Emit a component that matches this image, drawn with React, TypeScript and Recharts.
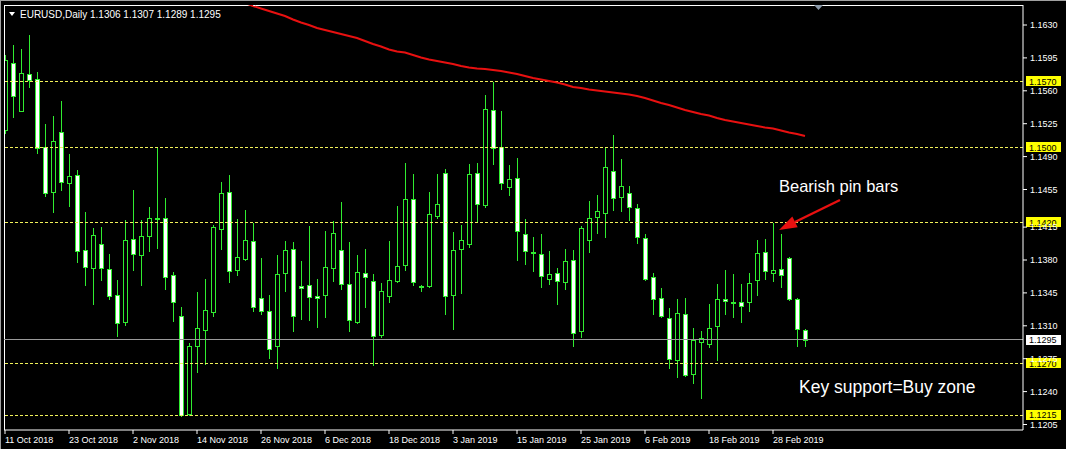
import { ComposedChart, Bar, Line, XAxis, YAxis, ReferenceLine } from 'recharts'

// EURUSD daily, 11 Oct 2018 .. early Mar 2019
const dateLabels = [
  '11 Oct 2018', '23 Oct 2018', '2 Nov 2018', '14 Nov 2018', '26 Nov 2018', '6 Dec 2018',
  '18 Dec 2018', '3 Jan 2019', '15 Jan 2019', '25 Jan 2019', '6 Feb 2019', '18 Feb 2019', '28 Feb 2019',
]

const opens = [
  1.1518, 1.1590, 1.1539, 1.1578, 1.1573, 1.1500, 1.1452, 1.1516, 1.1462, 1.1470,
  1.1391, 1.1372, 1.1397, 1.1370, 1.1343, 1.1314, 1.1402, 1.1385, 1.1406, 1.1424,
  1.1425, 1.1364, 1.1320, 1.1216, 1.1289, 1.1306, 1.1325, 1.1413, 1.1452, 1.1369,
  1.1381, 1.1400, 1.1340, 1.1326, 1.1288, 1.1366, 1.1392, 1.1352, 1.1353, 1.1342,
  1.1343, 1.1372, 1.1391, 1.1355, 1.1314, 1.1366, 1.1358, 1.1300, 1.1342, 1.1358,
  1.1375, 1.1445, 1.1352, 1.1352, 1.1427, 1.1473, 1.1343, 1.1392, 1.1397, 1.1473,
  1.1439, 1.1540, 1.1500, 1.1458, 1.1467, 1.1408, 1.1389, 1.1386, 1.1360, 1.1366,
  1.1357, 1.1380, 1.1304, 1.1401, 1.1426, 1.1430, 1.1475, 1.1447, 1.1451, 1.1435,
  1.1403, 1.1362, 1.1340, 1.1318, 1.1274, 1.1323, 1.1259, 1.1293, 1.1291, 1.1310,
  1.1339, 1.1335, 1.1335, 1.1335, 1.1359, 1.1388, 1.1366, 1.1370, 1.1382, 1.1339,
  1.1306,
]

const highs = [
  1.1598, 1.1609, 1.1604, 1.1619, 1.1580, 1.1525, 1.1533, 1.1549, 1.1493, 1.1476,
  1.1431, 1.1414, 1.1415, 1.1386, 1.1359, 1.1423, 1.1454, 1.1423, 1.1436, 1.1499,
  1.1446, 1.1367, 1.1330, 1.1292, 1.1346, 1.1360, 1.1417, 1.1463, 1.1470, 1.1424,
  1.1433, 1.1419, 1.1382, 1.1343, 1.1385, 1.1400, 1.1399, 1.1379, 1.1416, 1.1360,
  1.1411, 1.1421, 1.1442, 1.1399, 1.1385, 1.1392, 1.1365, 1.1356, 1.1400, 1.1437,
  1.1483, 1.1472, 1.1353, 1.1452, 1.1471, 1.1477, 1.1410, 1.1417, 1.1482, 1.1483,
  1.1556, 1.1569, 1.1538, 1.1481, 1.1488, 1.1424, 1.1404, 1.1408, 1.1390, 1.1372,
  1.1392, 1.1391, 1.1416, 1.1443, 1.1449, 1.1500, 1.1513, 1.1487, 1.1459, 1.1440,
  1.1408, 1.1366, 1.1350, 1.1329, 1.1338, 1.1340, 1.1308, 1.1304, 1.1333, 1.1355,
  1.1369, 1.1365, 1.1354, 1.1366, 1.1401, 1.1402, 1.1419, 1.1408, 1.1383, 1.1340,
  1.1307,
]

const lows = [
  1.1515, 1.1532, 1.1538, 1.1564, 1.1494, 1.1448, 1.1431, 1.1454, 1.1437, 1.1378,
  1.1353, 1.1333, 1.1359, 1.1338, 1.1299, 1.1311, 1.1369, 1.1353, 1.1390, 1.1393,
  1.1349, 1.1315, 1.1214, 1.1215, 1.1261, 1.1269, 1.1320, 1.1392, 1.1357, 1.1364,
  1.1380, 1.1326, 1.1323, 1.1276, 1.1265, 1.1347, 1.1304, 1.1317, 1.1316, 1.1309,
  1.1319, 1.1358, 1.1349, 1.1304, 1.1313, 1.1330, 1.1268, 1.1298, 1.1335, 1.1357,
  1.1369, 1.1353, 1.1347, 1.1351, 1.1425, 1.1323, 1.1307, 1.1345, 1.1394, 1.1421,
  1.1436, 1.1482, 1.1456, 1.1449, 1.1380, 1.1376, 1.1368, 1.1351, 1.1354, 1.1333,
  1.1349, 1.1288, 1.1298, 1.1388, 1.1409, 1.1404, 1.1433, 1.1432, 1.1423, 1.1398,
  1.1359, 1.1323, 1.1319, 1.1265, 1.1256, 1.1257, 1.1249, 1.1233, 1.1287, 1.1274,
  1.1323, 1.1319, 1.1314, 1.1326, 1.1343, 1.1360, 1.1358, 1.1351, 1.1337, 1.1288,
  1.1289,
]

const closes = [
  1.1593, 1.1555, 1.1579, 1.1571, 1.1499, 1.1451, 1.1507, 1.1463, 1.1469, 1.1390,
  1.1373, 1.1407, 1.1371, 1.1342, 1.1313, 1.1401, 1.1386, 1.1406, 1.1425, 1.1425,
  1.1362, 1.1335, 1.1215, 1.1289, 1.1308, 1.1327, 1.1415, 1.1451, 1.1368, 1.1383,
  1.1401, 1.1330, 1.1326, 1.1285, 1.1365, 1.1391, 1.1320, 1.1350, 1.1341, 1.1340,
  1.1373, 1.1409, 1.1354, 1.1316, 1.1367, 1.1362, 1.1299, 1.1347, 1.1359, 1.1374,
  1.1445, 1.1357, 1.1351, 1.1429, 1.1440, 1.1342, 1.1391, 1.1401, 1.1472, 1.1440,
  1.1541, 1.1499, 1.1462, 1.1466, 1.1411, 1.1390, 1.1387, 1.1363, 1.1365, 1.1358,
  1.1379, 1.1302, 1.1414, 1.1425, 1.1432, 1.1479, 1.1446, 1.1459, 1.1436, 1.1404,
  1.1360, 1.1338, 1.1320, 1.1275, 1.1324, 1.1258, 1.1295, 1.1297, 1.1308, 1.1338,
  1.1336, 1.1334, 1.1331, 1.1356, 1.1387, 1.1368, 1.1369, 1.1364, 1.1338, 1.1307,
  1.1295,
]

// red moving average, visible from bar 30 on
const maStart = 30
const maValues = [
  1.16534, 1.16502, 1.16476, 1.16449, 1.16422, 1.16396, 1.16359, 1.16327, 1.16300, 1.16268,
  1.16247, 1.16226, 1.16204, 1.16183, 1.16162, 1.16130, 1.16098, 1.16071, 1.16039, 1.16018,
  1.16007, 1.15981, 1.15954, 1.15933, 1.15917, 1.15901, 1.15885, 1.15864, 1.15848, 1.15837,
  1.15832, 1.15821, 1.15811, 1.15795, 1.15779, 1.15757, 1.15736, 1.15720, 1.15704, 1.15688,
  1.15667, 1.15640, 1.15630, 1.15614, 1.15603, 1.15593, 1.15582, 1.15571, 1.15561, 1.15545,
  1.15523, 1.15497, 1.15470, 1.15449, 1.15422, 1.15396, 1.15374, 1.15353, 1.15337, 1.15311,
  1.15289, 1.15273, 1.15257, 1.15241, 1.15226, 1.15210, 1.15199, 1.15178, 1.15156, 1.15140,
  1.15119,
]

const priceTicks = [
  1.1630, 1.1595, 1.1560, 1.1525, 1.1490, 1.1455, 1.1415, 1.1380, 1.1345, 1.1310, 1.1275, 1.1240, 1.1205,
]
const levelLines = [1.1570, 1.1500, 1.1420, 1.1270, 1.1215]
const bidPrice = 1.1295

const Y_MIN = 1.119915
const Y_MAX = 1.165128
const X_MIN = -0.125
const X_MAX = 127.25

const GREEN = '#30ec30'
const FONT = '"Liberation Sans", Arial, sans-serif'

const rows = opens.map((o, i) => ({
  i,
  open: o,
  high: highs[i],
  low: lows[i],
  close: closes[i],
  range: [lows[i], highs[i]],
  ma: i >= maStart ? maValues[i - maStart] : null,
}))

function Candle(props: any) {
  const { x, y, width, height } = props
  const d = props.payload ?? props
  if (d == null || d.open == null) return null
  const { open, high, low, close } = d
  const top = Math.min(y, y + height)
  const bottom = Math.max(y, y + height)
  const span = high - low || 1e-9
  const py = (p: number) => top + ((high - p) / span) * (bottom - top)
  const cx = Math.round(x + width / 2)
  const bTop = Math.round(py(Math.max(open, close)))
  const bBot = Math.round(py(Math.min(open, close)))
  const bull = close >= open
  return (
    <g>
      <line x1={cx + 0.5} x2={cx + 0.5} y1={Math.round(top)} y2={Math.round(bottom) + 1} stroke={GREEN} />
      <rect
        x={cx - 2 + 0.5}
        y={bTop + 0.5}
        width={4}
        height={Math.max(bBot - bTop, 0)}
        fill={bull ? '#000000' : '#ffffff'}
        stroke={GREEN}
      />
    </g>
  )
}

function DateTick({ x, y, payload }: any) {
  const label = dateLabels[Math.round(payload.value / 8)]
  return (
    <text x={x} y={y + 9} fill="#fff" fontSize={9} fontFamily={FONT} textAnchor="start">
      {label}
    </text>
  )
}

function PriceTick({ x, y, payload }: any) {
  return (
    <text x={x + 1} y={y + 3.3} fill="#fff" fontSize={9} fontFamily={FONT} textAnchor="start">
      {payload.value.toFixed(4)}
    </text>
  )
}

function PriceTag({ viewBox, text, bg }: any) {
  if (!viewBox) return null
  const left = viewBox.x + viewBox.width + 3
  const y = viewBox.y
  return (
    <g>
      <rect x={left} y={Math.round(y) - 5} width={35} height={10} fill={bg} />
      <text x={left + 3} y={y + 3.3} fill="#000" fontSize={9} fontFamily={FONT}>
        {text}
      </text>
    </g>
  )
}

export default function App() {
  return (
    <div style={{ position: 'absolute', left: 0, top: 0, width: 1066, height: 449, background: '#000', overflow: 'hidden' }}>
      <ComposedChart width={1066} height={449} data={rows} margin={{ top: 5, right: 0, bottom: 0, left: 4 }}>
        <XAxis
          dataKey="i"
          type="number"
          domain={[X_MIN, X_MAX]}
          allowDataOverflow
          ticks={dateLabels.map((_, k) => k * 8)}
          interval={0}
          height={19}
          tickSize={4}
          tickMargin={0}
          stroke="#fff"
          tickLine={{ stroke: '#fff' }}
          tick={<DateTick />}
        />
        <YAxis
          orientation="right"
          type="number"
          domain={[Y_MIN, Y_MAX]}
          allowDataOverflow
          ticks={priceTicks}
          interval={0}
          width={43}
          tickSize={4}
          tickMargin={2}
          stroke="#fff"
          tickLine={{ stroke: '#fff' }}
          tick={<PriceTick />}
        />
        <ReferenceLine y={Y_MAX} stroke="#fff" shapeRendering="crispEdges" />
        <ReferenceLine x={X_MIN} stroke="#fff" shapeRendering="crispEdges" />
        {levelLines.map((v) => (
          <ReferenceLine
            key={v}
            y={v}
            stroke="#f2f25a"
            strokeDasharray="3 2"
            shapeRendering="crispEdges"
            label={<PriceTag text={v.toFixed(4)} bg="#ffff00" />}
          />
        ))}
        <ReferenceLine
          y={bidPrice}
          stroke="#9a9a9a"
          shapeRendering="crispEdges"
          label={<PriceTag text={bidPrice.toFixed(4)} bg="#ffffff" />}
        />
        <Bar dataKey="range" barSize={5} isAnimationActive={false} shape={(p: any) => <Candle {...p} />} />
        <Line
          dataKey="ma"
          type="linear"
          stroke="#e81010"
          strokeWidth={2}
          dot={false}
          activeDot={false}
          connectNulls={false}
          isAnimationActive={false}
        />
      </ComposedChart>
      <svg width={1066} height={449} style={{ position: 'absolute', left: 0, top: 0, pointerEvents: 'none' }}>
        <line x1={0.5} y1={0} x2={0.5} y2={449} stroke="#a0a0a0" />
        <line x1={0} y1={0.5} x2={1066} y2={0.5} stroke="#a0a0a0" />
        <polygon points="9,12 15,12 12,16" fill="#fff" />
        <text x={20} y={17.5} fill="#fff" fontSize={10} fontFamily={FONT}>
          EURUSD,Daily  1.1306 1.1307 1.1289 1.1295
        </text>
        <polygon points="814,5 823,5 818.5,10" fill="#8a98a8" />
        <text x={779} y={192} fill="#fff" fontSize={16.5} fontFamily={FONT}>
          Bearish pin bars
        </text>
        <line x1={840} y1={200} x2={795} y2={222} stroke="#e81010" strokeWidth={2.5} />
        <polygon points="779,230 797.7,227.2 792.3,216.5" fill="#e81010" />
        <text x={799} y={393} fill="#fff" fontSize={17.5} fontFamily={FONT}>
          Key support=Buy zone
        </text>
      </svg>
    </div>
  )
}
